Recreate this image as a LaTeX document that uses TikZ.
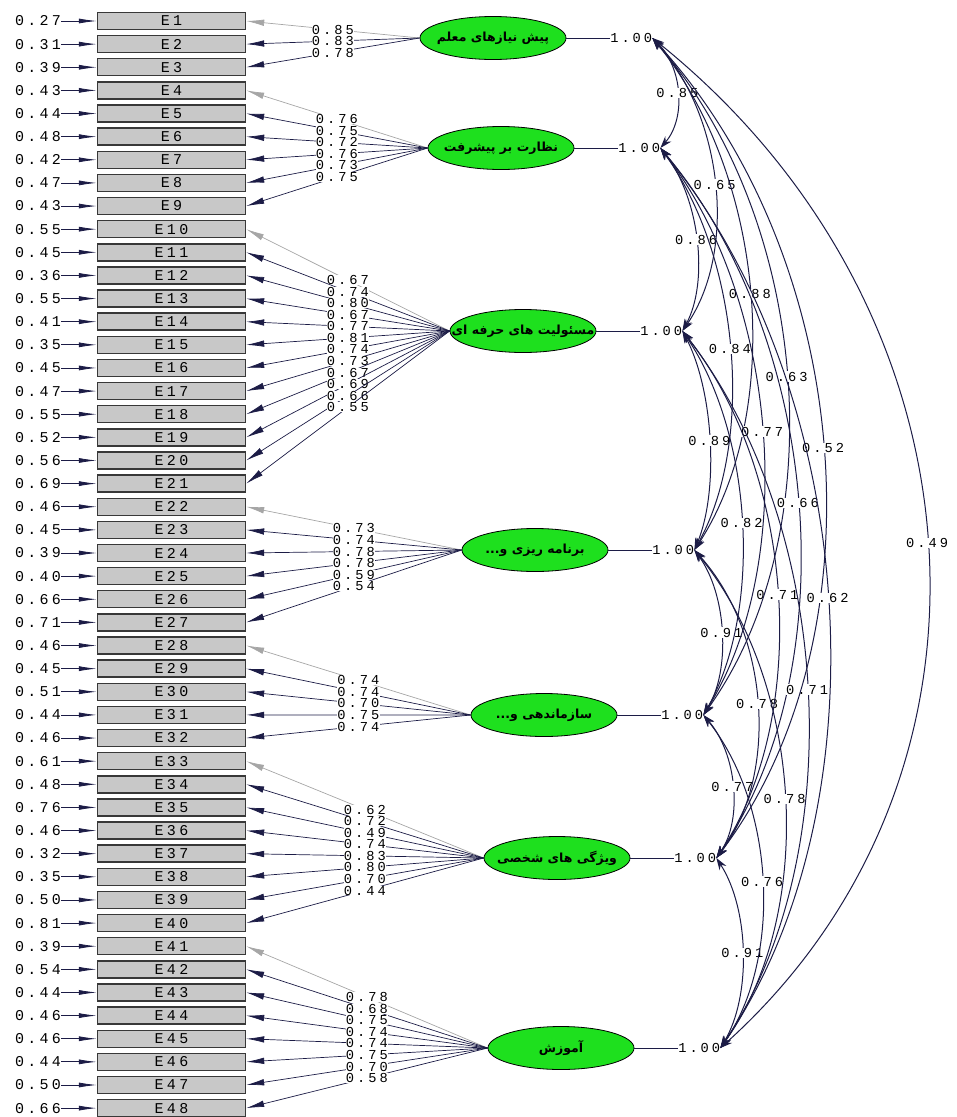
\documentclass[tikz,border=0pt]{standalone}
\usepackage{fontspec}
\usepackage{tikz}
\usetikzlibrary{arrows.meta,calc,shapes.geometric}
\TeXXeTstate=1
\newfontfamily\farsifont[Script=Arabic]{DejaVu Sans}
\newfontfamily\lisfont[LetterSpace=22]{Liberation Mono}
\definecolor{Latent}{HTML}{1EE01E}
\definecolor{Box}{HTML}{C8C8C8}
\definecolor{Path}{HTML}{1C1C46}
\definecolor{Fixed}{HTML}{A6A6A6}

\tikzset{
  obs/.style={draw=black!78,line width=1.4pt,fill=Box,minimum width=148pt,
    minimum height=17pt,inner sep=0pt,font={\lisfont\fontsize{15}{15}\selectfont}},
  errlab/.style={inner sep=0pt,font={\lisfont\fontsize{15}{15}\selectfont}},
  errarrow/.style={draw=Path,line width=0.8pt,-{Latex[length=18pt,width=5pt]}},
  latent/.style={ellipse,draw=black,line width=0.8pt,fill=Latent,
    minimum width=146pt,minimum height=43pt,inner sep=0pt},
  latname/.style={inner sep=0pt,font={\farsifont\bfseries\fontsize{12.5}{13}\selectfont}},
  varlab/.style={anchor=east,inner sep=0pt,font={\lisfont\fontsize{13.7}{13}\selectfont}},
  link/.style={draw=Path,line width=0.7pt},
  load/.style={draw=Path,line width=0.7pt,-{Latex[length=18pt,width=6.5pt]}},
  fixed/.style={load,draw=Fixed},
  loadlab/.style={fill=white,inner sep=0.3pt,font={\lisfont\fontsize{13.7}{12}\selectfont}},
  corr/.style={draw=Path,line width=1pt,>={Stealth[length=12pt,width=8pt]},<->},
  corrlab/.style={fill=white,inner sep=0.5pt,font={\lisfont\fontsize{13.7}{13}\selectfont}}
}

\begin{document}
\begin{tikzpicture}[x=1pt,y=-1pt]
\useasboundingbox (0,0) rectangle (957,1117);

% observed items and their error variances
\foreach \e [count=\i] in {0.27,0.31,0.39,0.43,0.44,0.48,0.42,0.47,0.43,0.55,0.45,0.36,
  0.55,0.41,0.35,0.45,0.47,0.55,0.52,0.56,0.69,0.46,0.45,0.39,0.40,0.66,0.71,0.46,
  0.45,0.51,0.44,0.46,0.61,0.48,0.76,0.46,0.32,0.35,0.50,0.81,0.39,0.54,0.44,0.46,
  0.46,0.44,0.50,0.66} {
  \node[obs] (E\i) at (171.5,{21+(\i-1)*23.13}) {E\i};
  \node[errlab] (u\i) at (38,{21+(\i-1)*23.13}) {\e};
  \draw[errarrow] (u\i) -- (E\i);
}

% latent factors with unit variances
\foreach \f/\x/\y/\name in {1/493/38/{پیش نیازهای معلم},2/501/148/{نظارت بر پیشرفت},
  3/523/331/{مسئولیت های حرفه ای},4/535/550/{برنامه ریزی و...},
  5/544/715/{سازماندهی و...},6/557/858/{ویژگی های شخصی},7/561/1048/{آموزش}} {
  \node[latent] (f\f) at (\x,\y) {};
  \node[latname] (n\f) at (f\f) {\beginR\name\endR};
  \coordinate (t\f) at ($(f\f.east)+(86,0)$);
  \node[varlab] (v\f) at (t\f) {1.00};
  \draw[link] (f\f) -- (v\f);
}

% loadings, first item of each factor fixed
\foreach \f/\first/\vals in {1/1/{0.85,0.83,0.78},
  2/4/{0.76,0.75,0.72,0.76,0.73,0.75},
  3/10/{0.67,0.74,0.80,0.67,0.77,0.81,0.74,0.73,0.67,0.69,0.66,0.55},
  4/22/{0.73,0.74,0.78,0.78,0.59,0.54},
  5/28/{0.74,0.74,0.70,0.75,0.74},
  6/33/{0.62,0.72,0.49,0.74,0.83,0.80,0.70,0.44},
  7/41/{0.78,0.68,0.75,0.74,0.74,0.75,0.70,0.58}} {
  \foreach \v [count=\k from 0] in \vals {
    \pgfmathtruncatemacro\i{\first+\k}
    \ifnum\k=0 \def\ls{fixed}\else\def\ls{load}\fi
    \draw[\ls] (f\f.west) -- node[loadlab] (l\i) {\v} (E\i.east);
  }
}

% factor correlations
\foreach \a/\b/\c/\r in {1/2/28/0.85,2/3/33/0.86,3/4/28/0.89,4/5/30/0.91,5/6/30/0.77,6/7/32/0.91,
  1/3/63/0.65,2/4/70/0.84,3/5/65/0.82,4/6/69/0.78,5/7/67/0.76,
  1/4/102/0.88,2/5/107/0.77,3/6/104/0.71,4/7/103/0.78,
  1/5/145/0.63,2/6/146/0.66,3/7/141/0.71,
  1/6/185/0.52,2/7/183/0.62,
  1/7/321/0.49} {
  \draw[corr] (t\a) .. controls ($(t\a)!0.27!(t\b)+(\c,0)$) and ($(t\b)!0.27!(t\a)+(\c,0)$) .. (t\b)
    node[corrlab,pos=0.5] (r\a\b) {\r};
}
\end{tikzpicture}
\end{document}
